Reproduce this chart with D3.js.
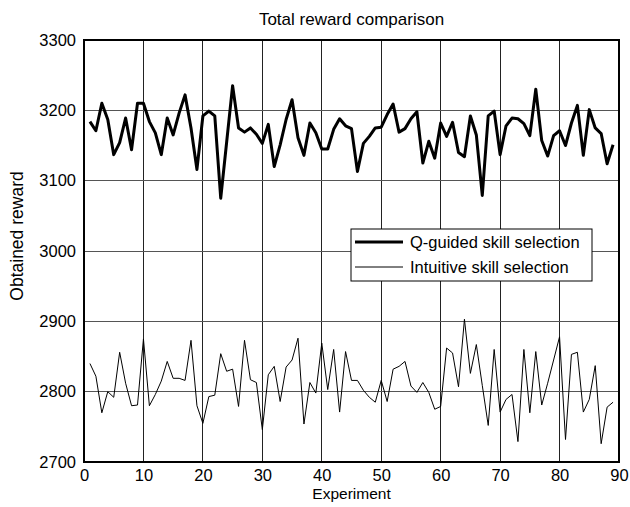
<!DOCTYPE html>
<html>
<head>
<meta charset="utf-8">
<script src="https://cdn.jsdelivr.net/npm/d3@7"></script>
<style>
  body { margin: 0; background: #fff; }
  svg { font-family: "Liberation Sans", Arial, sans-serif; }
</style>
</head>
<body>
<div id="chart"></div>
<script>
// experiment numbers 1..89
var experiments = d3.range(1, 90);

// Q-guided skill selection (thick line)
var qGuided = [3184, 3171, 3210, 3187, 3137, 3154, 3189, 3144, 3210, 3210,
  3184, 3168, 3137, 3189, 3165, 3196, 3222, 3175, 3116, 3192,
  3199, 3192, 3075, 3155, 3235, 3175, 3169, 3175, 3166, 3153,
  3180, 3120, 3151, 3187, 3215, 3161, 3136, 3182, 3168, 3145,
  3145, 3173, 3188, 3178, 3174, 3113, 3153, 3163, 3175, 3176,
  3194, 3209, 3169, 3174, 3188, 3198, 3125, 3156, 3132, 3182,
  3163, 3183, 3140, 3134, 3192, 3165, 3079, 3192, 3199, 3137,
  3178, 3189, 3188, 3181, 3164, 3230, 3157, 3135, 3164, 3171,
  3150, 3182, 3207, 3136, 3201, 3175, 3167, 3124, 3151];

// Intuitive skill selection (thin line)
var intuitive = [2840, 2822, 2770, 2800, 2792, 2856, 2812, 2780, 2781, 2875,
  2780, 2796, 2815, 2843, 2819, 2819, 2816, 2873, 2780, 2755,
  2793, 2795, 2854, 2829, 2832, 2779, 2873, 2817, 2813, 2746,
  2824, 2836, 2786, 2835, 2845, 2876, 2754, 2813, 2798, 2869,
  2803, 2860, 2771, 2857, 2816, 2816, 2802, 2792, 2785, 2816,
  2786, 2832, 2836, 2843, 2808, 2799, 2813, 2799, 2775, 2779,
  2862, 2855, 2807, 2903, 2826, 2867, 2809, 2752, 2860, 2771,
  2789, 2796, 2729, 2860, 2770, 2857, 2781, 2812, 2845, 2878,
  2732, 2853, 2856, 2771, 2789, 2837, 2726, 2778, 2785];

var xTicks = [0, 10, 20, 30, 40, 50, 60, 70, 80, 90];
var yTicks = [2700, 2800, 2900, 3000, 3100, 3200, 3300];

var seriesNames = ["Q-guided skill selection", "Intuitive skill selection"];
var seriesWidths = [3, 1];

var width = 630, height = 507;
var margin = {top: 40, right: 11, bottom: 45, left: 84};
var innerW = width - margin.left - margin.right,
    innerH = height - margin.top - margin.bottom;

var svg = d3.select("#chart").append("svg")
  .attr("width", width)
  .attr("height", height);

var g = svg.append("g")
  .attr("transform", "translate(" + margin.left + "," + margin.top + ")");

var x = d3.scaleLinear().domain([0, 90]).range([0, innerW]);
var y = d3.scaleLinear().domain([2700, 3300]).range([innerH, 0]);

// grid
g.append("g").selectAll("line").data(xTicks).enter().append("line")
  .attr("x1", function(d) { return x(d); })
  .attr("x2", function(d) { return x(d); })
  .attr("y1", 0).attr("y2", innerH)
  .attr("stroke", "#222").attr("stroke-width", 1)
  .attr("shape-rendering", "crispEdges");

g.append("g").selectAll("line").data(yTicks).enter().append("line")
  .attr("x1", 0).attr("x2", innerW)
  .attr("y1", function(d) { return y(d); })
  .attr("y2", function(d) { return y(d); })
  .attr("stroke", "#555").attr("stroke-width", 1)
  .attr("shape-rendering", "crispEdges");

// axes
var xAxis = g.append("g")
  .attr("transform", "translate(0," + innerH + ")")
  .call(d3.axisBottom(x).tickValues(xTicks).tickSize(0).tickPadding(7));
var yAxis = g.append("g")
  .call(d3.axisLeft(y).tickValues(yTicks).tickSize(0).tickPadding(8).tickFormat(d3.format("d")));

[xAxis, yAxis].forEach(function(a) {
  a.select(".domain").remove();
  a.selectAll("text").attr("font-size", 16.5).attr("fill", "#000")
    .attr("font-family", "Liberation Sans, Arial, sans-serif");
});

// lines
var line = d3.line()
  .x(function(d, i) { return x(experiments[i]); })
  .y(function(d) { return y(d); });

g.append("path").datum(intuitive)
  .attr("fill", "none").attr("stroke", "#000")
  .attr("stroke-width", seriesWidths[1])
  .attr("d", line);

g.append("path").datum(qGuided)
  .attr("fill", "none").attr("stroke", "#000")
  .attr("stroke-width", seriesWidths[0])
  .attr("stroke-linejoin", "round")
  .attr("d", line);

// frame
g.append("rect")
  .attr("x", 0).attr("y", 0)
  .attr("width", innerW).attr("height", innerH)
  .attr("fill", "none").attr("stroke", "#000").attr("stroke-width", 2);

// legend
var lg = g.append("g").attr("transform", "translate(" + (351 - margin.left) + "," + (229 - margin.top) + ")");
lg.append("rect")
  .attr("width", 241).attr("height", 52)
  .attr("fill", "#fff").attr("stroke", "#000").attr("stroke-width", 1);

seriesNames.forEach(function(name, i) {
  var ly = 13 + i * 25;
  lg.append("line")
    .attr("x1", 4).attr("x2", 52)
    .attr("y1", ly).attr("y2", ly)
    .attr("stroke", "#000").attr("stroke-width", seriesWidths[i]);
  lg.append("text")
    .attr("x", 59).attr("y", ly + 6)
    .attr("font-size", 16.5)
    .text(name);
});

// title & labels
svg.append("text")
  .attr("x", margin.left + innerW / 2).attr("y", 25)
  .attr("text-anchor", "middle")
  .attr("font-size", 17)
  .text("Total reward comparison");

svg.append("text")
  .attr("x", margin.left + innerW / 2).attr("y", 499)
  .attr("text-anchor", "middle")
  .attr("font-size", 15.5)
  .text("Experiment");

svg.append("text")
  .attr("transform", "translate(23,236) rotate(-90)")
  .attr("text-anchor", "middle")
  .attr("font-size", 17.5)
  .text("Obtained reward");
</script>
</body>
</html>
